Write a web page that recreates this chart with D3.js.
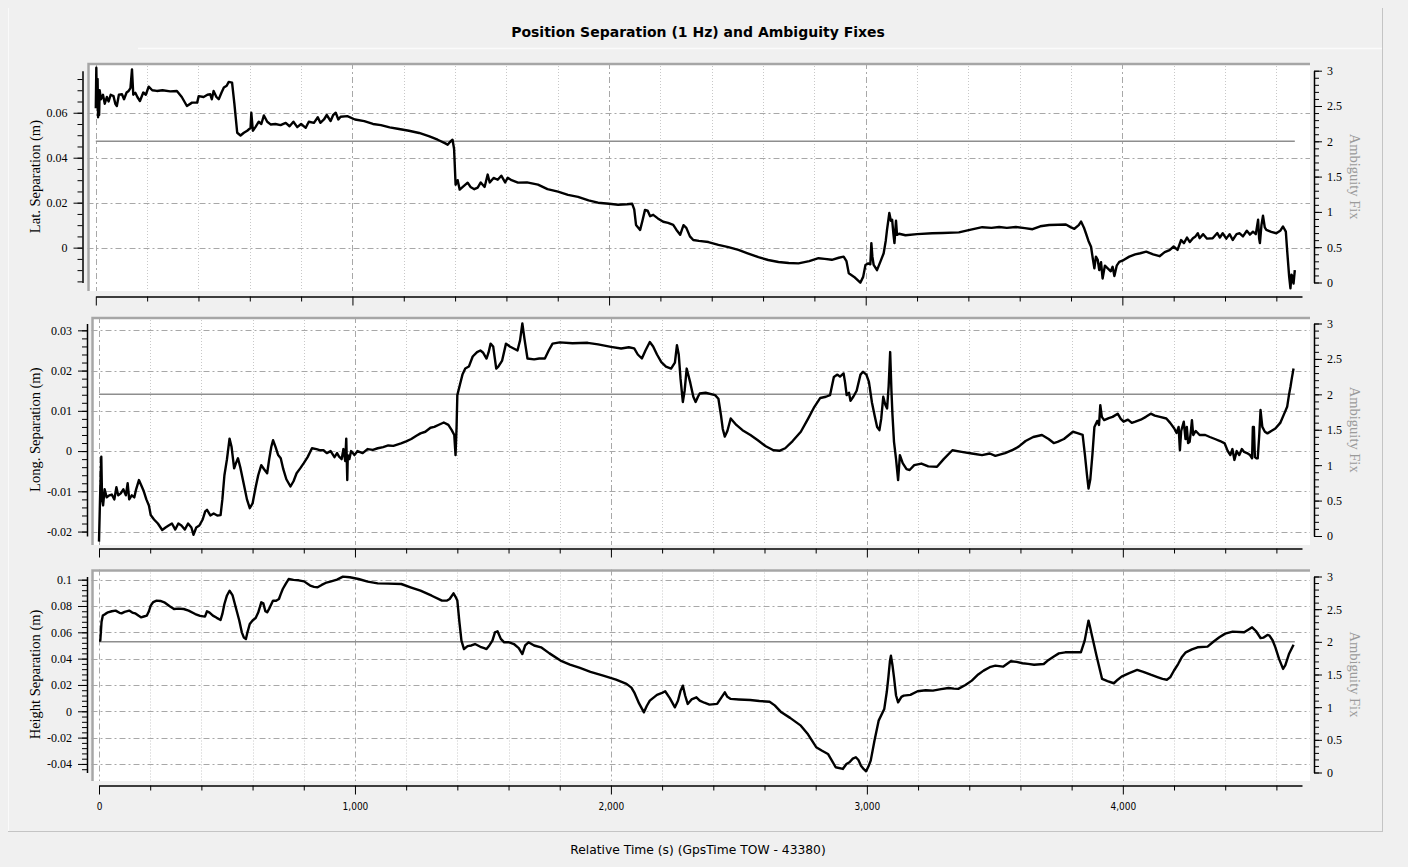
<!DOCTYPE html>
<html lang="en">
<head>
    <meta charset="UTF-8">
    <title>Position Separation (1 Hz) and Ambiguity Fixes</title>
    <style>
        html, body { margin: 0; padding: 0; background: #f0f0f0; }
        svg { display: block; }
    </style>
</head>
<body>
    <svg id="chart" width="1408" height="867"></svg>

    <script src="https://d3js.org/d3.v7.min.js"></script>

    <script>
        // Separation series, [relative time (s), separation (m)]
        const latSeparation = [
            [0,0.062],[2,0.080],[4,0.066],[7,0.075],[9,0.058],[11,0.069],[13,0.059],[15,0.070],[20,0.066],[28,0.068],
            [35,0.064],[43,0.067],[50,0.065],[58,0.068],[69,0.0674],[76,0.064],[82,0.063],[90,0.068],[102,0.0682],[110,0.066],
            [120,0.069],[128,0.0697],[135,0.071],[141,0.0793],[146,0.068],[154,0.0689],[162,0.067],[172,0.0652],[185,0.069],[195,0.068],
            [206,0.0716],[220,0.070],[238,0.0697],[260,0.070],[290,0.0695],[316,0.0697],[335,0.067],[355,0.063],[375,0.0645],[395,0.0645],
            [401,0.0674],[420,0.067],[435,0.068],[446,0.0682],[452,0.066],[459,0.0697],[470,0.067],[479,0.066],[490,0.069],[499,0.0712],
            [510,0.072],[518,0.0737],[531,0.0734],[540,0.064],[551,0.0511],[564,0.0499],[577,0.0511],[590,0.052],[603,0.0533],[606,0.060],
            [612,0.052],[622,0.0536],[635,0.056],[645,0.055],[655,0.0588],[668,0.056],[681,0.0548],[700,0.055],[720,0.0545],[740,0.0555],
            [755,0.054],[770,0.056],[785,0.0536],[800,0.055],[818,0.0533],[830,0.056],[850,0.0555],[865,0.058],[875,0.0555],[889,0.057],
            [900,0.059],[915,0.0563],[925,0.059],[935,0.060],[945,0.057],[954,0.0582],[980,0.0585],[1010,0.057],[1046,0.0563],[1080,0.055],
            [1111,0.0545],[1145,0.0535],[1176,0.0529],[1220,0.052],[1260,0.051],[1300,0.0495],[1332,0.048],[1360,0.0465],[1371,0.0458],[1380,0.047],
            [1390,0.048],[1396,0.044],[1402,0.028],[1410,0.030],[1418,0.0258],[1430,0.027],[1449,0.0289],[1460,0.027],[1475,0.026],[1488,0.0267],
            [1500,0.029],[1515,0.027],[1527,0.0325],[1535,0.029],[1550,0.031],[1566,0.0302],[1580,0.032],[1595,0.029],[1605,0.0311],[1620,0.030],
            [1645,0.0289],[1680,0.029],[1723,0.028],[1760,0.026],[1801,0.0249],[1840,0.0235],[1879,0.0226],[1920,0.021],[1957,0.020],[2000,0.0195],
            [2035,0.0191],[2070,0.0193],[2090,0.0195],[2098,0.017],[2105,0.0101],[2113,0.009],[2121,0.0079],[2130,0.012],[2140,0.0168],[2150,0.0165],
            [2160,0.014],[2172,0.0146],[2190,0.013],[2211,0.0115],[2230,0.011],[2250,0.0101],[2262,0.008],[2277,0.0057],[2290,0.010],[2301,0.0088],
            [2315,0.005],[2328,0.0034],[2350,0.003],[2387,0.0025],[2426,0.0012],[2465,0.0002],[2504,-0.001],[2540,-0.0025],[2582,-0.0042],[2620,-0.0055],
            [2660,-0.0064],[2700,-0.0068],[2738,-0.007],[2780,-0.006],[2816,-0.0047],[2840,-0.005],[2868,-0.0054],[2895,-0.0045],[2914,-0.004],[2925,-0.006],
            [2934,-0.0114],[2955,-0.013],[2979,-0.0156],[2990,-0.013],[2999,-0.0077],[3010,-0.0070],[3018,-0.0074],[3022,0.002],[3026,-0.004],[3031,-0.0077],
            [3044,-0.010],[3058,-0.006],[3070,-0.0025],[3078,0.003],[3083,0.0079],[3092,0.0154],[3098,0.012],[3103,0.0124],[3108,0.006],[3112,0.002],
            [3118,0.012],[3122,0.0057],[3130,0.0062],[3155,0.0055],[3200,0.006],[3259,0.0064],[3300,0.0065],[3363,0.0068],[3410,0.008],[3454,0.0091],
            [3490,0.0088],[3520,0.0092],[3550,0.0088],[3585,0.0092],[3620,0.0087],[3650,0.0082],[3680,0.0095],[3715,0.0101],[3750,0.0102],[3780,0.0103],
            [3800,0.009],[3813,0.0084],[3830,0.010],[3839,0.0116],[3850,0.009],[3858,0.0064],[3868,0.003],[3878,0.0004],[3885,-0.005],[3891,-0.0092],
            [3897,-0.004],[3904,-0.0054],[3910,-0.010],[3917,-0.0065],[3923,-0.0137],[3932,-0.008],[3943,-0.0092],[3955,-0.0105],[3962,-0.0085],[3969,-0.0126],
            [3978,-0.008],[3988,-0.0063],[4005,-0.0055],[4027,-0.004],[4050,-0.003],[4070,-0.0025],[4093,-0.0018],[4120,-0.003],[4145,-0.0038],[4165,-0.002],
            [4184,-0.0011],[4200,0.0005],[4215,-0.001],[4229,0.0034],[4240,0.002],[4252,0.0045],[4263,0.0025],[4275,0.0042],[4285,0.005],[4294,0.0064],
            [4301,0.0042],[4315,0.006],[4330,0.004],[4352,0.0042],[4370,0.0065],[4380,0.0045],[4391,0.0064],[4405,0.004],[4418,0.006],[4430,0.0034],
            [4445,0.006],[4457,0.0064],[4470,0.005],[4485,0.0075],[4497,0.0058],[4509,0.0071],[4520,0.006],[4529,0.0124],[4533,0.004],[4536,0.002],
            [4542,0.010],[4548,0.0142],[4555,0.009],[4561,0.0079],[4580,0.007],[4600,0.0064],[4615,0.0075],[4626,0.0094],[4637,0.0071],[4642,-0.001],
            [4650,-0.0129],[4655,-0.0181],[4659,-0.012],[4663,-0.0129],[4667,-0.016],[4672,-0.010]
        ];

        const longSeparation = [
            [0,-0.0225],[4,-0.012],[7,-0.005],[9,-0.0014],[12,-0.012],[16,-0.0135],[22,-0.0095],[30,-0.0115],[40,-0.011],[50,-0.0108],
            [60,-0.012],[68,-0.009],[75,-0.011],[85,-0.0105],[95,-0.0095],[105,-0.011],[112,-0.008],[118,-0.012],[128,-0.011],[138,-0.0115],
            [145,-0.0095],[156,-0.0072],[165,-0.0085],[175,-0.010],[185,-0.012],[195,-0.0135],[202,-0.0159],[215,-0.017],[230,-0.018],[247,-0.0196],
            [260,-0.019],[272,-0.0185],[285,-0.018],[298,-0.0195],[310,-0.018],[322,-0.0185],[335,-0.0195],[348,-0.018],[361,-0.019],[369,-0.0208],
            [380,-0.019],[392,-0.0185],[405,-0.017],[415,-0.015],[422,-0.0146],[435,-0.016],[448,-0.0155],[462,-0.016],[475,-0.0159],[482,-0.012],
            [490,-0.006],[500,-0.002],[510,0.0031],[518,0.001],[528,-0.0043],[535,-0.003],[543,-0.0018],[552,-0.004],[565,-0.008],[578,-0.012],
            [589,-0.0142],[600,-0.013],[612,-0.009],[622,-0.006],[634,-0.0035],[645,-0.0045],[657,-0.0055],[665,-0.002],[673,0.001],[680,0.0027],
            [690,0.001],[700,-0.001],[710,-0.0018],[720,-0.0045],[732,-0.007],[748,-0.0088],[760,-0.0075],[772,-0.0055],[786,-0.0043],[800,-0.003],
            [815,-0.0015],[832,0.0007],[850,0.0005],[865,0.0002],[877,0.0002],[890,-0.0005],[905,0.0],[920,-0.0015],[930,-0.0005],[938,-0.0014],
            [948,-0.002],[955,0.0005],[962,-0.0025],[966,0.0031],[968,-0.002],[970,-0.0072],[972,-0.001],[978,-0.002],[985,0.0],[998,-0.001],
            [1010,0.0],[1030,-0.0005],[1050,0.0005],[1070,0.0003],[1089,0.0007],[1110,0.0010],[1130,0.0014],[1150,0.0013],[1180,0.0019],[1200,0.0024],
            [1220,0.003],[1240,0.0038],[1256,0.0044],[1275,0.0048],[1295,0.0058],[1310,0.006],[1330,0.0066],[1347,0.0071],[1365,0.0065],[1378,0.0052],
            [1388,0.004],[1393,-0.001],[1397,0.006],[1400,0.0139],[1410,0.0165],[1420,0.019],[1431,0.0205],[1445,0.021],[1460,0.0235],[1477,0.0246],
            [1490,0.025],[1500,0.0245],[1514,0.023],[1522,0.0245],[1530,0.0267],[1540,0.026],[1552,0.0205],[1560,0.021],[1575,0.0225],[1590,0.0267],
            [1605,0.026],[1620,0.0255],[1635,0.025],[1645,0.0275],[1654,0.0317],[1662,0.028],[1674,0.023],[1700,0.0228],[1720,0.023],[1742,0.023],
            [1757,0.025],[1772,0.0267],[1800,0.027],[1850,0.0268],[1909,0.0269],[1950,0.0265],[2000,0.0259],[2040,0.0255],[2070,0.0258],[2091,0.0255],
            [2105,0.024],[2121,0.023],[2135,0.025],[2152,0.0271],[2165,0.026],[2180,0.024],[2197,0.0221],[2215,0.021],[2235,0.0205],[2250,0.022],
            [2258,0.0263],[2265,0.024],[2272,0.018],[2281,0.0122],[2288,0.015],[2296,0.0205],[2310,0.017],[2322,0.0135],[2331,0.0122],[2340,0.0135],
            [2347,0.0143],[2370,0.0145],[2407,0.0139],[2420,0.013],[2430,0.0089],[2437,0.0055],[2445,0.0036],[2455,0.005],[2468,0.0081],[2490,0.0065],
            [2514,0.0052],[2545,0.004],[2574,0.0027],[2605,0.0012],[2635,0.0002],[2660,0.0001],[2681,0.0007],[2710,0.0025],[2742,0.0048],[2770,0.008],
            [2795,0.011],[2818,0.0132],[2840,0.0135],[2856,0.0139],[2863,0.016],[2871,0.0184],[2885,0.019],[2895,0.0185],[2909,0.0193],[2915,0.017],
            [2921,0.0139],[2930,0.0145],[2936,0.0125],[2947,0.0135],[2960,0.015],[2975,0.019],[2985,0.0197],[2998,0.019],[3008,0.0172],[3020,0.012],
            [3030,0.0089],[3040,0.006],[3049,0.0052],[3056,0.008],[3064,0.0135],[3072,0.0115],[3079,0.0106],[3085,0.016],[3091,0.0246],[3096,0.015],
            [3100,0.009],[3106,0.0023],[3114,-0.002],[3122,-0.0072],[3129,-0.001],[3140,-0.003],[3155,-0.0045],[3167,-0.0047],[3185,-0.0035],[3213,-0.0031],
            [3240,-0.0038],[3274,-0.0039],[3300,-0.002],[3334,0.0002],[3370,-0.0002],[3410,-0.0006],[3450,-0.001],[3480,-0.0006],[3502,-0.0012],[3540,-0.0005],
            [3570,0.0003],[3593,0.0011],[3620,0.0025],[3650,0.0035],[3684,0.004],[3710,0.003],[3730,0.002],[3745,0.0023],[3770,0.003],[3805,0.0048],
            [3820,0.0045],[3843,0.004],[3852,-0.001],[3860,-0.006],[3866,-0.0093],[3873,-0.007],[3881,-0.001],[3889,0.006],[3900,0.0075],[3907,0.0065],
            [3912,0.0114],[3918,0.0085],[3927,0.0077],[3945,0.0082],[3960,0.0085],[3980,0.0093],[3992,0.008],[4003,0.0073],[4020,0.0078],[4035,0.007],
            [4049,0.0073],[4070,0.0078],[4090,0.0085],[4109,0.0093],[4125,0.0088],[4145,0.0085],[4170,0.0081],[4185,0.007],[4201,0.0056],[4210,0.0045],
            [4218,0.006],[4223,0.0002],[4228,0.005],[4238,0.0073],[4245,0.003],[4250,0.006],[4255,0.002],[4261,0.0023],[4266,0.005],[4270,0.0077],
            [4275,0.004],[4285,0.005],[4300,0.004],[4322,0.004],[4340,0.0035],[4360,0.003],[4380,0.0025],[4398,0.0019],[4410,0.0],[4420,-0.001],
            [4428,0.0005],[4436,-0.0022],[4445,0.0],[4455,-0.001],[4465,0.0005],[4474,-0.0002],[4485,-0.0005],[4497,-0.001],[4505,-0.0018],[4508,0.006],
            [4512,0.006],[4516,-0.0015],[4522,-0.0018],[4527,-0.0018],[4533,0.004],[4538,0.0102],[4545,0.006],[4555,0.0048],[4565,0.0044],[4580,0.005],
            [4596,0.0056],[4615,0.007],[4634,0.0098],[4642,0.011],[4649,0.0139],[4655,0.016],[4660,0.018],[4667,0.0205]
        ];

        const heightSeparation = [
            [0,0.0537],[5,0.0537],[10,0.068],[15,0.0727],[25,0.074],[35,0.0752],[50,0.076],[65,0.0765],[80,0.0748],[88,0.0744],
            [100,0.0755],[118,0.0765],[130,0.075],[141,0.0744],[155,0.0725],[164,0.0714],[175,0.072],[187,0.0727],[195,0.076],[202,0.0803],
            [212,0.083],[225,0.0841],[240,0.0838],[255,0.0828],[275,0.080],[293,0.0777],[310,0.078],[331,0.0777],[350,0.0765],[376,0.0739],
            [395,0.0725],[414,0.0719],[422,0.076],[432,0.075],[445,0.0727],[460,0.071],[475,0.0694],[482,0.074],[490,0.0815],[500,0.088],
            [510,0.0916],[522,0.088],[536,0.0777],[548,0.069],[558,0.060],[566,0.056],[574,0.0549],[580,0.060],[589,0.0663],[600,0.069],
            [612,0.0709],[622,0.075],[634,0.0828],[642,0.082],[650,0.076],[657,0.0752],[665,0.078],[680,0.0841],[692,0.084],[703,0.0853],
            [710,0.089],[718,0.0929],[730,0.097],[741,0.1005],[760,0.0998],[780,0.0995],[801,0.0987],[825,0.0955],[840,0.0945],[854,0.0942],
            [870,0.096],[885,0.0975],[907,0.0987],[930,0.100],[953,0.1023],[980,0.1018],[1014,0.1005],[1050,0.0985],[1089,0.0972],[1130,0.097],
            [1181,0.0967],[1220,0.094],[1256,0.0916],[1300,0.0878],[1340,0.0841],[1360,0.0842],[1370,0.0853],[1385,0.0896],[1393,0.087],[1400,0.0841],
            [1408,0.068],[1416,0.0537],[1426,0.0473],[1440,0.0495],[1455,0.050],[1469,0.0511],[1490,0.049],[1505,0.048],[1514,0.0473],[1525,0.050],
            [1537,0.0537],[1547,0.060],[1557,0.0608],[1570,0.055],[1583,0.0524],[1600,0.0525],[1621,0.0511],[1640,0.048],[1654,0.0435],[1665,0.050],
            [1678,0.0524],[1700,0.050],[1727,0.0486],[1760,0.044],[1803,0.0385],[1840,0.0355],[1879,0.0329],[1920,0.030],[1970,0.0271],[2020,0.024],
            [2061,0.0208],[2080,0.018],[2091,0.0144],[2110,0.006],[2129,-0.0008],[2140,0.004],[2152,0.0081],[2180,0.0125],[2200,0.014],[2212,0.0152],
            [2230,0.010],[2250,0.003],[2262,0.008],[2272,0.0155],[2281,0.0195],[2290,0.012],[2300,0.0056],[2315,0.009],[2334,0.0106],[2347,0.0081],
            [2365,0.0065],[2385,0.0051],[2415,0.0056],[2430,0.010],[2445,0.0144],[2455,0.011],[2468,0.0094],[2500,0.009],[2544,0.0086],[2580,0.0078],
            [2620,0.0073],[2640,0.0045],[2666,-0.0008],[2700,-0.005],[2742,-0.0109],[2770,-0.0175],[2802,-0.0273],[2825,-0.030],[2848,-0.0324],[2865,-0.038],
            [2878,-0.0425],[2906,-0.0438],[2920,-0.040],[2932,-0.0387],[2945,-0.036],[2957,-0.0349],[2967,-0.037],[2977,-0.0413],[2988,-0.044],[2997,-0.0456],
            [3006,-0.042],[3015,-0.0375],[3030,-0.022],[3046,-0.0071],[3068,0.0018],[3078,0.015],[3084,0.0258],[3090,0.038],[3094,0.0423],[3100,0.035],
            [3106,0.0258],[3114,0.012],[3122,0.0068],[3135,0.011],[3144,0.0119],[3170,0.0125],[3198,0.0152],[3230,0.016],[3258,0.0157],[3290,0.0168],
            [3319,0.0177],[3340,0.0172],[3357,0.017],[3385,0.020],[3410,0.0233],[3435,0.028],[3456,0.0309],[3480,0.0335],[3502,0.0347],[3532,0.0339],
            [3562,0.038],[3585,0.0375],[3608,0.0365],[3630,0.036],[3653,0.0354],[3691,0.0359],[3710,0.039],[3729,0.0415],[3750,0.044],[3775,0.0448],
            [3810,0.0448],[3836,0.0448],[3851,0.0537],[3860,0.063],[3866,0.0689],[3872,0.064],[3878,0.0587],[3897,0.0423],[3919,0.0246],[3940,0.023],
            [3965,0.0213],[3980,0.024],[3995,0.0263],[4025,0.029],[4056,0.0314],[4080,0.030],[4109,0.0278],[4135,0.026],[4155,0.0246],[4172,0.024],
            [4185,0.0258],[4200,0.031],[4216,0.0359],[4230,0.041],[4246,0.0448],[4270,0.047],[4292,0.0486],[4331,0.0491],[4355,0.053],[4377,0.0562],
            [4400,0.059],[4429,0.0605],[4474,0.060],[4490,0.062],[4505,0.0638],[4520,0.061],[4538,0.0557],[4550,0.056],[4565,0.058],[4573,0.0575],
            [4585,0.054],[4596,0.0486],[4610,0.040],[4626,0.0322],[4635,0.035],[4649,0.0435],[4667,0.0506]
        ];

        // Ambiguity fix status (right axis), constant over the whole run
        const ambiguityFix = [[0, 2], [4672, 2]];

        // Tick values
        const timeTicks = [0, 1000, 2000, 3000, 4000];
        const latTicks = [0, 0.02, 0.04, 0.06];
        const longTicks = [-0.02, -0.01, 0, 0.01, 0.02, 0.03];
        const heightTicks = [-0.04, -0.02, 0, 0.02, 0.04, 0.06, 0.08, 0.1];
        const fixTicks = [0, 0.5, 1, 1.5, 2, 2.5, 3];

        const titleText = "Position Separation (1 Hz) and Ambiguity Fixes";
        const xLabelText = "Relative Time (s) (GpsTime TOW - 43380)";

        const svg = d3.select("#chart");
        const plotRight = 1310;
        const timeEnd = 4700;
        const serif = "'Liberation Serif', 'DejaVu Serif', serif";

        // Layout of the three stacked panels
        const panels = [
            { data: latSeparation, label: "Lat. Separation (m)", ticks: latTicks, minorStep: 0.005,
              domain: [-0.0155, 0.0787], axisX: 82.5, plotLeft: 87.5, x0: 95.8,
              top: 63, bottom: 291, yTop: 70.7, yBottom: 282.5, xAxisY: 296.5, showTimeLabels: false },
            { data: longSeparation, label: "Long. Separation (m)", ticks: longTicks, minorStep: 0.002,
              domain: [-0.0211, 0.0317], axisX: 87, plotLeft: 91.5, x0: 99,
              top: 317, bottom: 545, yTop: 323.5, yBottom: 536, xAxisY: 548.5, showTimeLabels: false },
            { data: heightSeparation, label: "Height Separation (m)", ticks: heightTicks, minorStep: 0.004,
              domain: [-0.0465, 0.1024], axisX: 87, plotLeft: 91.5, x0: 99,
              top: 569.5, bottom: 781, yTop: 576.5, yBottom: 772.5, xAxisY: 785.5, showTimeLabels: true }
        ];

        // Window frame
        svg.append("line").attr("x1", 138).attr("x2", 1382).attr("y1", 48.5).attr("y2", 48.5)
            .attr("stroke", "#fbfbfb").attr("stroke-width", 1.5);
        svg.append("line").attr("x1", 8.5).attr("x2", 8.5).attr("y1", 8).attr("y2", 831)
            .attr("stroke", "#fafafa");
        svg.append("line").attr("x1", 1382.5).attr("x2", 1382.5).attr("y1", 8).attr("y2", 832)
            .attr("stroke", "#c4c4c4");
        svg.append("line").attr("x1", 8).attr("x2", 1383).attr("y1", 831.5).attr("y2", 831.5)
            .attr("stroke", "#c4c4c4");

        // Title
        svg.append("text")
            .attr("x", 698)
            .attr("y", 37)
            .attr("text-anchor", "middle")
            .style("font-family", "'DejaVu Sans', sans-serif")
            .style("font-weight", "bold")
            .style("font-size", "14px")
            .text(titleText);

        panels.forEach((p, i) => {
            const x = d3.scaleLinear().domain([0, timeEnd]).range([p.x0, 1302]);
            const y = d3.scaleLinear().domain(p.domain).range([p.yBottom, p.yTop]);
            const yFix = d3.scaleLinear().domain([0, 3]).range([p.yBottom, p.yTop]);

            const minorTime = d3.range(200, timeEnd, 200).filter(t => t % 1000 !== 0);
            const minorY = d3.range(Math.ceil(p.domain[0] / p.minorStep) * p.minorStep, p.domain[1], p.minorStep);
            const minorFix = d3.range(0, 3.01, 0.1);

            // Plot background and bevel border
            svg.append("rect")
                .attr("x", p.plotLeft).attr("y", p.top)
                .attr("width", plotRight - p.plotLeft).attr("height", p.bottom - p.top)
                .attr("fill", "#ffffff");

            const clipId = "clip" + i;
            svg.append("clipPath").attr("id", clipId)
                .append("rect")
                .attr("x", p.plotLeft + 1).attr("y", p.top + 1)
                .attr("width", plotRight - p.plotLeft - 1).attr("height", p.bottom - p.top - 1);

            const grid = svg.append("g");

            // Minor vertical grid (dotted)
            grid.selectAll(".vminor").data(minorTime).join("line")
                .attr("x1", d => Math.round(x(d)) + 0.5).attr("x2", d => Math.round(x(d)) + 0.5)
                .attr("y1", p.top).attr("y2", p.bottom)
                .attr("stroke", "#c8c8c8").attr("stroke-dasharray", "1,2");

            // Major vertical grid (dash-dot)
            grid.selectAll(".vmajor").data(timeTicks).join("line")
                .attr("x1", d => Math.round(x(d)) + 0.5).attr("x2", d => Math.round(x(d)) + 0.5)
                .attr("y1", p.top).attr("y2", p.bottom)
                .attr("stroke", "#a8a8a8").attr("stroke-dasharray", "6,3,2,3");

            // Horizontal grid at major separation ticks
            grid.selectAll(".hmajor").data(p.ticks).join("line")
                .attr("x1", p.plotLeft).attr("x2", plotRight)
                .attr("y1", d => Math.round(y(d)) + 0.5).attr("y2", d => Math.round(y(d)) + 0.5)
                .attr("stroke", "#a8a8a8").attr("stroke-dasharray", "6,3,2,3");

            // Bevel on top and left
            svg.append("path")
                .attr("d", `M${p.plotLeft + 1},${p.bottom} V${p.top + 1} H${plotRight}`)
                .attr("fill", "none")
                .attr("stroke", "#a6a6a6")
                .attr("stroke-width", 2.5);

            // Ambiguity fix line
            svg.append("path")
                .datum(ambiguityFix)
                .attr("clip-path", `url(#${clipId})`)
                .attr("d", d3.line().x(d => x(d[0])).y(d => yFix(d[1])))
                .attr("fill", "none")
                .attr("stroke", "#8e8e8e")
                .attr("stroke-width", 1.5);

            // Separation line
            svg.append("path")
                .datum(p.data)
                .attr("clip-path", `url(#${clipId})`)
                .attr("d", d3.line().x(d => x(d[0])).y(d => y(d[1])))
                .attr("fill", "none")
                .attr("stroke", "#000000")
                .attr("stroke-width", 2.4)
                .attr("stroke-linejoin", "round");

            // Left axis: minor then major ticks
            svg.append("g")
                .attr("transform", `translate(${p.axisX},0)`)
                .call(d3.axisLeft(y).tickValues(minorY).tickSize(5).tickSizeOuter(0).tickFormat(""))
                .call(g => g.select(".domain").remove());

            svg.append("g")
                .attr("transform", `translate(${p.axisX},0)`)
                .call(d3.axisLeft(y).tickValues(p.ticks).tickSize(9).tickSizeOuter(0).tickPadding(6)
                    .tickFormat(d => d === 0 ? "0" : String(+d.toFixed(3))))
                .call(g => g.selectAll("text").style("font-family", serif).style("font-size", "12px").attr("fill", "#000"))
                .call(g => g.select(".domain").attr("stroke-width", 1.5));

            // Right axis for ambiguity fix
            svg.append("g")
                .attr("transform", `translate(1314,0)`)
                .call(d3.axisRight(yFix).tickValues(minorFix).tickSize(5).tickSizeOuter(0).tickFormat(""))
                .call(g => g.select(".domain").remove());

            svg.append("g")
                .attr("transform", `translate(1314,0)`)
                .call(d3.axisRight(yFix).tickValues(fixTicks).tickSize(8).tickSizeOuter(0).tickPadding(5)
                    .tickFormat(d => String(d)))
                .call(g => g.selectAll("text").style("font-family", serif).style("font-size", "12px").attr("fill", "#000"))
                .call(g => g.select(".domain").attr("stroke-width", 1.5));

            // Time axis
            svg.append("g")
                .attr("transform", `translate(0,${p.xAxisY})`)
                .call(d3.axisBottom(x).tickValues(minorTime).tickSize(5).tickSizeOuter(0).tickFormat(""))
                .call(g => g.select(".domain").remove());

            svg.append("g")
                .attr("transform", `translate(0,${p.xAxisY})`)
                .call(d3.axisBottom(x).tickValues(timeTicks).tickSize(9).tickSizeOuter(0).tickPadding(8)
                    .tickFormat(p.showTimeLabels ? d3.format(",") : ""))
                .call(g => g.selectAll("text")
                    .style("font-family", "'Liberation Sans Narrow', 'DejaVu Sans Condensed', sans-serif")
                    .style("font-size", "10px").attr("fill", "#000"))
                .call(g => g.select(".domain").attr("stroke-width", 1.5));

            // Axis titles
            svg.append("text")
                .attr("transform", `translate(35,${(p.yTop + p.yBottom) / 2}) rotate(-90)`)
                .attr("text-anchor", "middle")
                .attr("dy", "0.35em")
                .style("font-family", serif)
                .style("font-size", "14.5px")
                .text(p.label);

            svg.append("text")
                .attr("transform", `translate(1355,${(p.yTop + p.yBottom) / 2}) rotate(90)`)
                .attr("text-anchor", "middle")
                .attr("dy", "0.35em")
                .attr("fill", "#9a9a9a")
                .style("font-family", serif)
                .style("font-size", "14.5px")
                .text("Ambiguity Fix");
        });

        // Bottom axis label
        svg.append("text")
            .attr("x", 698)
            .attr("y", 854)
            .attr("text-anchor", "middle")
            .style("font-family", "'DejaVu Sans', sans-serif")
            .style("font-size", "12.3px")
            .text(xLabelText);
    </script>
</body>
</html>
